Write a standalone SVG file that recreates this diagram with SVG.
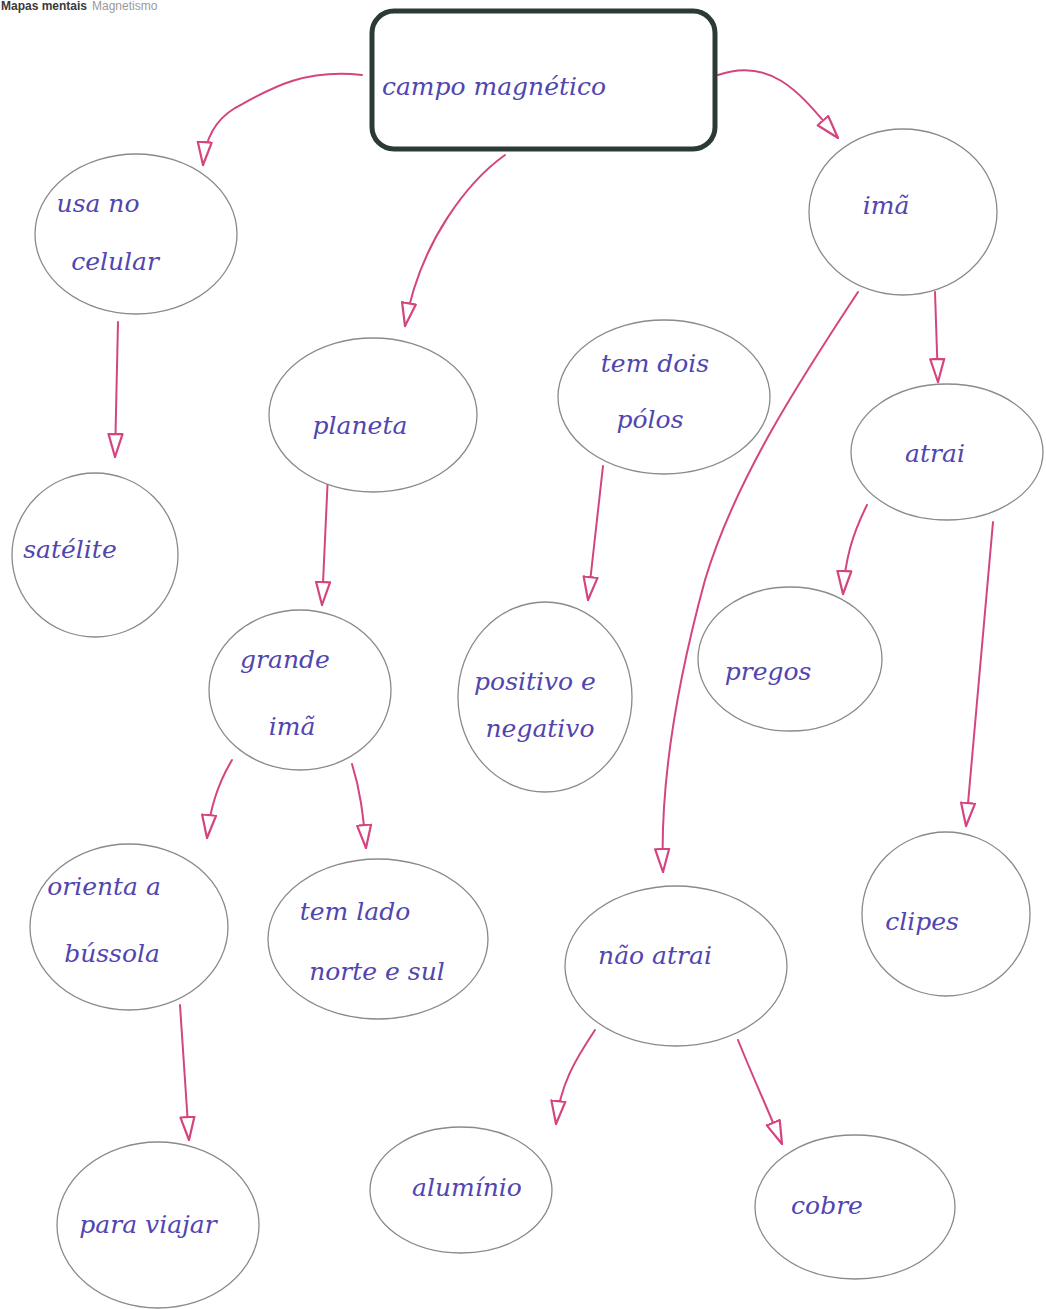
<svg xmlns="http://www.w3.org/2000/svg" width="1046" height="1309" viewBox="0 0 1046 1309">
<style>
.node ellipse{fill:#ffffff;stroke:#8a8a8a;stroke-width:1.3}
.lbl{font-family:"DejaVu Serif","Liberation Serif",serif;font-style:italic;font-size:25px;fill:#5145b0;text-anchor:middle}
.edge{fill:none;stroke:#d4457f;stroke-width:2;stroke-linecap:round;marker-end:url(#ah)}
</style>
<defs>
<marker id="ah" markerUnits="userSpaceOnUse" markerWidth="30" markerHeight="20" refX="24" refY="8" orient="auto" viewBox="0 0 30 16">
<path d="M1,1 L24,8 L1,15 Z" fill="#ffffff" stroke="#d4457f" stroke-width="2.2" stroke-linejoin="round"/>
</marker>
</defs>
<rect width="1046" height="1309" fill="#ffffff"/>
<g id="header">
<text x="1" y="10" font-family="Liberation Sans, Arial, sans-serif" font-size="12" font-weight="bold" fill="#3a3a3a">Mapas mentais</text>
<text x="92" y="10" font-family="Liberation Sans, Arial, sans-serif" font-size="12" fill="#9a9a9a">Magnetismo</text>
</g>
<g id="connectors">
<path class="edge" d="M362,75 C300,68 265,92 235,108 C215,120 205,138 203,165"/>
<path class="edge" d="M505,155 C470,180 420,240 405,326"/>
<path class="edge" d="M718,75 C775,55 805,100 838,138"/>
<path class="edge" d="M118,322 L115,457"/>
<path class="edge" d="M328,474 L322,605"/>
<path class="edge" d="M603,466 L588,600"/>
<path class="edge" d="M858,292 C800,380 735,480 705,580 C675,690 660,790 663,872"/>
<path class="edge" d="M935,292 L938,382"/>
<path class="edge" d="M867,505 C852,535 845,560 843,594"/>
<path class="edge" d="M993,522 L966,826"/>
<path class="edge" d="M232,760 C220,780 210,805 207,838"/>
<path class="edge" d="M352,764 C360,790 363,812 366,848"/>
<path class="edge" d="M180,1005 L189,1140"/>
<path class="edge" d="M595,1030 C575,1060 560,1085 556,1124"/>
<path class="edge" d="M738,1040 C752,1075 766,1105 782,1144"/>
</g>
<g id="campo" class="node">
<rect x="372" y="11" width="343" height="138" rx="22" fill="#ffffff" stroke="#2c3a36" stroke-width="5"/>
<text class="lbl" x="494" y="95">campo magnético</text>
</g>
<g id="usa" class="node"><ellipse cx="136" cy="234" rx="101" ry="80"/><text class="lbl" x="98" y="212">usa no</text><text class="lbl" x="115" y="270">celular</text></g>
<g id="satelite" class="node"><ellipse cx="95" cy="555" rx="83" ry="82"/><text class="lbl" x="70" y="558">satélite</text></g>
<g id="planeta" class="node"><ellipse cx="373" cy="415" rx="104" ry="77"/><text class="lbl" x="360" y="434">planeta</text></g>
<g id="grande" class="node"><ellipse cx="300" cy="690" rx="91" ry="80"/><text class="lbl" x="285" y="668">grande</text><text class="lbl" x="292" y="735">imã</text></g>
<g id="dois" class="node"><ellipse cx="664" cy="397" rx="106" ry="77"/><text class="lbl" x="655" y="372">tem dois</text><text class="lbl" x="650" y="428">pólos</text></g>
<g id="positivo" class="node"><ellipse cx="545" cy="697" rx="87" ry="95"/><text class="lbl" x="535" y="690">positivo e</text><text class="lbl" x="540" y="737">negativo</text></g>
<g id="ima" class="node"><ellipse cx="903" cy="212" rx="94" ry="83"/><text class="lbl" x="886" y="214">imã</text></g>
<g id="atrai" class="node"><ellipse cx="947" cy="452" rx="96" ry="68"/><text class="lbl" x="935" y="462">atrai</text></g>
<g id="pregos" class="node"><ellipse cx="790" cy="659" rx="92" ry="72"/><text class="lbl" x="768" y="680">pregos</text></g>
<g id="clipes" class="node"><ellipse cx="946" cy="914" rx="84" ry="82"/><text class="lbl" x="922" y="930">clipes</text></g>
<g id="orienta" class="node"><ellipse cx="129" cy="927" rx="99" ry="83"/><text class="lbl" x="104" y="895">orienta a</text><text class="lbl" x="112" y="962">bússola</text></g>
<g id="lado" class="node"><ellipse cx="378" cy="939" rx="110" ry="80"/><text class="lbl" x="355" y="920">tem lado</text><text class="lbl" x="377" y="980">norte e sul</text></g>
<g id="naoatrai" class="node"><ellipse cx="676" cy="966" rx="111" ry="80"/><text class="lbl" x="655" y="964">não atrai</text></g>
<g id="aluminio" class="node"><ellipse cx="461" cy="1190" rx="91" ry="63"/><text class="lbl" x="467" y="1196">alumínio</text></g>
<g id="cobre" class="node"><ellipse cx="855" cy="1207" rx="100" ry="72"/><text class="lbl" x="827" y="1214">cobre</text></g>
<g id="viajar" class="node"><ellipse cx="158" cy="1225" rx="101" ry="83"/><text class="lbl" x="148" y="1233">para viajar</text></g>
</svg>
